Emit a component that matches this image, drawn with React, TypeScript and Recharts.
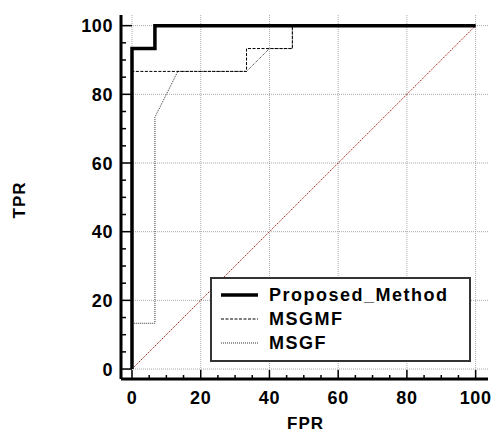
import { LineChart, Line, XAxis, YAxis, CartesianGrid, Legend } from 'recharts';

// ROC points (FPR %, TPR %)
const proposedFpr = [0, 0, 6.67, 6.67, 100];
const proposedTpr = [0, 93.33, 93.33, 100, 100];

const msgmfFpr = [0, 0, 33.33, 33.33, 46.67, 46.67, 100];
const msgmfTpr = [0, 86.67, 86.67, 93.33, 93.33, 100, 100];

const msgfFpr = [0, 0, 6.67, 6.67, 13.33, 33.33, 40, 46.67, 46.67, 100];
const msgfTpr = [0, 13.33, 13.33, 73.33, 86.67, 86.67, 93.33, 93.33, 100, 100];

const chanceFpr = [0, 100];
const chanceTpr = [0, 100];

const axisTicks = [0, 5, 10, 15, 20, 25, 30, 35, 40, 45, 50, 55, 60, 65, 70, 75, 80, 85, 90, 95, 100];
const gridTicks = [0, 20, 40, 60, 80, 100];
const seriesNames = ['Proposed_Method', 'MSGMF', 'MSGF'];

const toPoints = (fpr: number[], tpr: number[]) => fpr.map((x, i) => ({ fpr: x, tpr: tpr[i] }));

const FONT = '"Liberation Sans", Arial, sans-serif';

// line styles for the legend samples, same order as seriesNames
const legendLook = [
  { width: 3.5, dash: undefined, color: '#000' },
  { width: 1, dash: '3 1.5', color: '#000' },
  { width: 1, dash: '1 1', color: '#333' },
];

const XTick = (props: any) => {
  const { x, y, payload } = props;
  const major = payload.value % 20 === 0;
  return (
    <g>
      <line x1={x} x2={x} y1={y} y2={y - (major ? 9 : 4)} stroke="#000" strokeWidth={1.5} />
      {major && (
        <text x={x} y={y + 25} textAnchor="middle" fontSize={18} fontWeight="bold" fontFamily={FONT} fill="#000" letterSpacing={0.6}>
          {payload.value}
        </text>
      )}
    </g>
  );
};

const YTick = (props: any) => {
  const { x, y, payload } = props;
  const major = payload.value % 20 === 0;
  return (
    <g>
      <line x1={x} x2={x + (major ? 11 : 5)} y1={y} y2={y} stroke="#000" strokeWidth={1.5} />
      {major && (
        <text x={x - 8} y={y + 6.5} textAnchor="end" fontSize={18} fontWeight="bold" fontFamily={FONT} fill="#000" letterSpacing={0.6}>
          {payload.value}
        </text>
      )}
    </g>
  );
};

const renderLegend = () => (
  <div
    style={{
      boxSizing: 'border-box',
      width: 261,
      height: 85,
      border: '2px solid #333',
      background: '#fff',
      paddingTop: 4,
      paddingLeft: 9,
    }}
  >
    {seriesNames.map((name, i) => (
      <div key={name} style={{ display: 'flex', alignItems: 'center', height: 24 }}>
        <svg width={37} height={8} style={{ display: 'block' }}>
          <line
            x1={0}
            x2={37}
            y1={4}
            y2={4}
            stroke={legendLook[i].color}
            strokeWidth={legendLook[i].width}
            strokeDasharray={legendLook[i].dash}
          />
        </svg>
        <span
          style={{
            marginLeft: 11,
            fontFamily: FONT,
            fontWeight: 'bold',
            fontSize: 18,
            lineHeight: '24px',
            letterSpacing: 1.5,
            color: '#000',
          }}
        >
          {name}
        </span>
      </div>
    ))}
  </div>
);

export default function App() {
  return (
    <div style={{ position: 'absolute', left: 0, top: 0, width: 496, height: 434, background: '#fff' }}>
      <LineChart width={496} height={434} margin={{ top: 15, right: 8, bottom: 15, left: 1 }}>
        <CartesianGrid
          stroke="#a8a8a8"
          strokeDasharray="1 1"
          horizontalValues={gridTicks}
          verticalValues={gridTicks}
        />
        <XAxis
          type="number"
          dataKey="fpr"
          domain={[-3.2, 103.6]}
          ticks={axisTicks}
          interval={0}
          allowDataOverflow
          height={40}
          tickSize={0}
          tickMargin={0}
          tickLine={false}
          tick={<XTick />}
          axisLine={{ stroke: '#000', strokeWidth: 3 }}
          label={({ viewBox }: any) => (
            <text
              x={viewBox.x + viewBox.width / 2 + 1}
              y={viewBox.y + 50}
              textAnchor="middle"
              fontSize={17}
              fontWeight="bold"
              fontFamily={FONT}
              letterSpacing={1}
            >
              FPR
            </text>
          )}
        />
        <YAxis
          type="number"
          dataKey="tpr"
          domain={[-2.9, 103.1]}
          ticks={axisTicks}
          interval={0}
          allowDataOverflow
          width={120}
          tickSize={0}
          tickMargin={0}
          tickLine={false}
          tick={<YTick />}
          axisLine={{ stroke: '#000', strokeWidth: 3 }}
          label={({ viewBox }: any) => {
            const cx = viewBox.x + 18;
            const cy = viewBox.y + viewBox.height / 2 + 3;
            return (
              <text
                x={cx}
                y={cy}
                transform={`rotate(-90 ${cx} ${cy})`}
                textAnchor="middle"
                dominantBaseline="central"
                fontSize={17}
                fontWeight="bold"
                fontFamily={FONT}
                letterSpacing={1}
              >
                TPR
              </text>
            );
          }}
        />
        <Line
          data={toPoints(chanceFpr, chanceTpr)}
          dataKey="tpr"
          stroke="#a82828"
          strokeWidth={1}
          strokeDasharray="1.5 1"
          dot={false}
          activeDot={false}
          legendType="none"
          isAnimationActive={false}
        />
        <Line
          data={toPoints(msgfFpr, msgfTpr)}
          dataKey="tpr"
          name={seriesNames[2]}
          stroke="#333"
          strokeWidth={1}
          strokeDasharray="1 1"
          dot={false}
          activeDot={false}
          isAnimationActive={false}
        />
        <Line
          data={toPoints(msgmfFpr, msgmfTpr)}
          dataKey="tpr"
          name={seriesNames[1]}
          stroke="#000"
          strokeWidth={1}
          strokeDasharray="3 1.5"
          dot={false}
          activeDot={false}
          isAnimationActive={false}
        />
        <Line
          data={toPoints(proposedFpr, proposedTpr)}
          dataKey="tpr"
          name={seriesNames[0]}
          stroke="#000"
          strokeWidth={3.5}
          dot={false}
          activeDot={false}
          isAnimationActive={false}
        />
        <Legend
          layout="vertical"
          align="center"
          verticalAlign="middle"
          content={renderLegend}
          wrapperStyle={{ left: 210, top: 277, width: 261, height: 85 }}
        />
      </LineChart>
    </div>
  );
}
